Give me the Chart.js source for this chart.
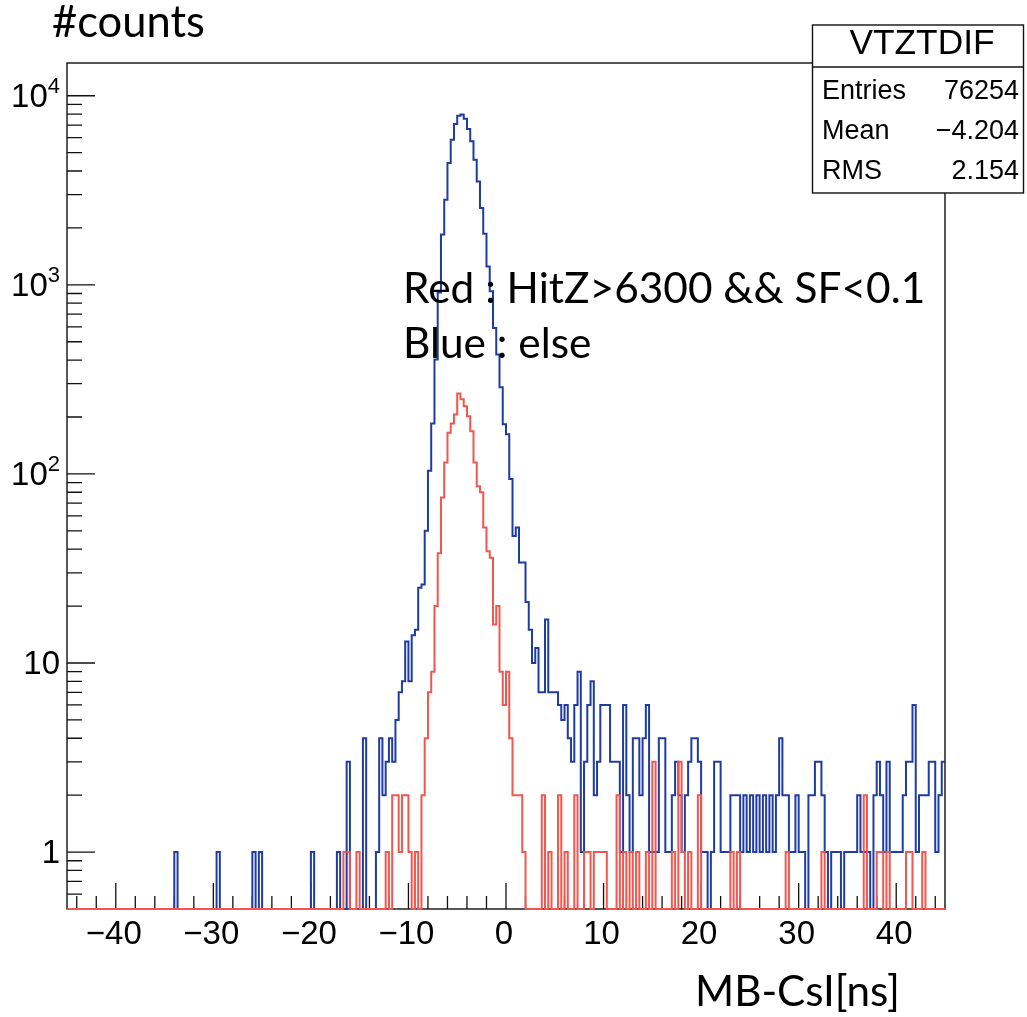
<!DOCTYPE html>
<html><head><meta charset="utf-8">
<script src="https://cdn.jsdelivr.net/npm/chart.js@4.4.1/dist/chart.umd.min.js"></script>
<style>html,body{margin:0;padding:0;background:#fff;}canvas{display:block;}</style>
</head><body>
<canvas id="c" width="1027" height="1017"></canvas>
<script>
// ---------------- data ----------------
const X_MIN = -45, X_MAX = 45;            // histogram range [ns], 270 bins of 1/3 ns
const BLUE_COUNTS = [
  0,0,0,0,0,0,0,0,0,0, 0,0,0,0,0,0,0,0,0,0, 0,0,0,0,0,0,0,0,0,0,
  0,0,0,1,0,0,0,0,0,0, 0,0,0,0,0,0,1,0,0,0, 0,0,0,0,0,0,0,1,0,1,
  0,0,0,0,0,0,0,0,0,0, 0,0,0,0,0,1,0,0,0,0, 0,0,0,1,0,0,3,0,0,0,
  0,4,0,0,0,1,4,2,3,4, 3,5,7,8,13,8,14,15,25,26, 50,104,185,403,910,1845,2820,4410,5860,7080,
  7840,7960,7560,6670,5740,4590,3520,2550,1865,1250, 925,592,428,287,183,162,94,47,52,34, 34,21,15,10,12,7,7,17,7,7,
  7,6,5,6,4,3,6,9,1,3, 6,8,2,3,6,6,6,3,3,3, 1,6,2,1,4,4,2,4,6,1,
  1,1,4,4,1,1,2,3,2,1, 2,3,4,4,3,1,1,0,1,3, 3,1,1,1,2,2,2,1,2,1,
  2,1,2,1,2,1,2,1,2,4, 2,2,1,1,2,1,1,0,2,2, 3,3,2,1,0,1,1,1,0,1,
  1,1,1,2,1,1,1,0,2,3, 2,1,3,1,1,1,1,2,3,3, 6,1,2,2,2,3,3,1,2,3
];
const RED_COUNTS = [
  0,0,0,0,0,0,0,0,0,0, 0,0,0,0,0,0,0,0,0,0, 0,0,0,0,0,0,0,0,0,0,
  0,0,0,0,0,0,0,0,0,0, 0,0,0,0,0,0,0,0,0,0, 0,0,0,0,0,0,0,0,0,0,
  0,0,0,0,0,0,0,0,0,0, 0,0,0,0,0,0,0,0,0,0, 0,0,0,0,0,1,1,0,0,1,
  0,0,0,0,0,0,0,0,1,0, 2,2,1,2,2,1,0,1,0,2, 4,7,9,20,38,75,115,165,185,206,
  266,248,228,202,168,115,86,80,52,39, 36,16,20,9,6,9,4,2,2,2, 1,0,0,0,0,0,2,0,1,0,
  0,2,0,1,0,0,2,0,0,1, 1,0,1,1,1,1,0,0,0,2, 0,1,0,1,0,1,0,0,1,0,
  3,0,0,0,0,0,1,0,3,1, 0,1,0,0,2,0,0,0,0,0, 0,0,0,0,1,0,1,0,0,0,
  0,0,0,0,0,0,0,0,0,0, 0,1,0,0,0,0,0,0,0,0, 0,0,1,0,0,0,0,0,0,0,
  0,0,0,0,0,2,0,0,0,1, 1,0,1,0,0,0,0,0,1,1, 0,0,0,1,0,0,0,0,0,0
];
const X_TICK_VALUES = [-40,-30,-20,-10,0,10,20,30,40];
const X_MINOR_STEP = 2;
const Y_MIN = 0.5, Y_MAX = 14900;
const Y_TICK_VALUES = [1,10,100,1000,10000];
const Y_TICK_BASES  = ['1','10','10','10','10'];
const Y_TICK_EXPS   = ['','','2','3','4'];
const STAT_TITLE = 'VTZTDIF';
const STAT_NAMES  = ['Entries','Mean','RMS'];
const STAT_VALUES = ['76254','\u22124.204','2.154'];
const Y_TITLE = '#counts';
const X_TITLE = 'MB-CsI[ns]';
const NOTE_LINES = ['Red : HitZ>6300 && SF<0.1','Blue : else'];

// ---------------- styles ----------------
const BLUE = '#1f3ca3';
const RED = '#f2564e';
const AXIS_FONT = '"Liberation Sans", Arial, sans-serif';
const NOTE_FONT = 'Lato, "Open Sans", sans-serif';

function histPoints(counts){
  const w = (X_MAX - X_MIN) / counts.length;
  const pts = counts.map((c,i) => ({x: X_MIN + i*w, y: c > 0 ? c : Y_MIN}));
  const last = counts[counts.length-1];
  pts.push({x: X_MAX, y: last > 0 ? last : Y_MIN});
  return pts;
}

function fitSize(ctx, text, family, targetW){
  ctx.font = '100px ' + family;
  return 100 * targetW / ctx.measureText(text).width;
}

const framePlugin = {
  id: 'frame',
  beforeDatasetsDraw(chart){
    const ctx = chart.ctx, a = chart.chartArea, xs = chart.scales.x, ys = chart.scales.y;
    ctx.save();
    ctx.strokeStyle = '#111'; ctx.lineWidth = 1.4;
    ctx.strokeRect(a.left, a.top, a.right - a.left, a.bottom - a.top);
    ctx.lineWidth = 1.3;
    ctx.beginPath();
    for (let v = -44; v <= 44; v += X_MINOR_STEP){
      const px = xs.getPixelForValue(v);
      const len = (v % 10 === 0) ? 26 : 13;
      ctx.moveTo(px, a.bottom); ctx.lineTo(px, a.bottom - len);
    }
    for (let d = -1; d <= 4; d++){
      for (let m = 1; m <= 9; m++){
        const v = m * Math.pow(10, d);
        if (v < Y_MIN || v > Y_MAX) continue;
        const py = ys.getPixelForValue(v);
        const len = (m === 1) ? 28 : 15;
        ctx.moveTo(a.left, py); ctx.lineTo(a.left + len, py);
      }
    }
    ctx.stroke();
    ctx.restore();
  },
  afterDraw(chart){
    const ctx = chart.ctx, a = chart.chartArea, xs = chart.scales.x, ys = chart.scales.y;
    ctx.save();
    ctx.fillStyle = '#000';
    // x tick labels
    ctx.font = '33px ' + AXIS_FONT;
    ctx.textAlign = 'center'; ctx.textBaseline = 'alphabetic';
    X_TICK_VALUES.forEach(v => {
      const t = v < 0 ? '\u2212' + Math.abs(v) : String(v);
      ctx.fillText(t, xs.getPixelForValue(v) - 2, 944);
    });
    // y tick labels
    Y_TICK_VALUES.forEach((v,i) => {
      const py = ys.getPixelForValue(v);
      const base = Y_TICK_BASES[i], ex = Y_TICK_EXPS[i];
      ctx.textAlign = 'left';
      ctx.font = '22px ' + AXIS_FONT;
      const we = ex ? ctx.measureText(ex).width : 0;
      ctx.font = '33px ' + AXIS_FONT;
      const wb = ctx.measureText(base).width;
      const right = 60;
      ctx.fillText(base, right - we - wb, py + 11);
      if (ex){ ctx.font = '22px ' + AXIS_FONT; ctx.fillText(ex, right - we, py - 3); }
    });
    // stats box
    const bx = 812.5, by = 25, bw = 211, bh = 168, sep = 67;
    ctx.fillStyle = '#fff'; ctx.fillRect(bx, by, bw, bh);
    ctx.strokeStyle = '#111'; ctx.lineWidth = 1.4;
    ctx.strokeRect(bx, by, bw, bh);
    ctx.beginPath(); ctx.moveTo(bx, sep); ctx.lineTo(bx + bw, sep); ctx.stroke();
    ctx.fillStyle = '#000';
    const ts = fitSize(ctx, STAT_TITLE, AXIS_FONT, 145);
    ctx.font = ts.toFixed(1) + 'px ' + AXIS_FONT;
    ctx.textAlign = 'center'; ctx.fillText(STAT_TITLE, 922, 54);
    ctx.font = '27px ' + AXIS_FONT;
    const rowsY = [99, 139, 179];
    STAT_NAMES.forEach((n,i) => {
      ctx.textAlign = 'left'; ctx.fillText(n, 822, rowsY[i]);
      ctx.textAlign = 'right'; ctx.fillText(STAT_VALUES[i], 1019, rowsY[i]);
    });
    // titles & notes
    ctx.textAlign = 'left';
    let s = fitSize(ctx, Y_TITLE, NOTE_FONT, 153);
    ctx.font = s.toFixed(1) + 'px ' + NOTE_FONT; ctx.fillText(Y_TITLE, 52, 37);
    s = fitSize(ctx, X_TITLE, NOTE_FONT, 205);
    ctx.font = s.toFixed(1) + 'px ' + NOTE_FONT; ctx.fillText(X_TITLE, 695, 1006);
    s = fitSize(ctx, NOTE_LINES[0], NOTE_FONT, 522);
    ctx.font = s.toFixed(1) + 'px ' + NOTE_FONT;
    ctx.fillText(NOTE_LINES[0], 403, 303);
    ctx.fillText(NOTE_LINES[1], 403, 358);
    ctx.restore();
  }
};

new Chart(document.getElementById('c'), {
  type: 'line',
  data: {
    datasets: [
      { label: 'Red', data: histPoints(RED_COUNTS), borderColor: RED, borderWidth: 2,
        stepped: true, pointRadius: 0, fill: false, clip: 3, order: 0 },
      { label: 'Blue', data: histPoints(BLUE_COUNTS), borderColor: BLUE, borderWidth: 2,
        stepped: true, pointRadius: 0, fill: false, clip: 3, order: 1 }
    ]
  },
  options: {
    responsive: false, animation: false, devicePixelRatio: 1,
    layout: { padding: { left: 0, top: 63, right: 82, bottom: 0 } },
    scales: {
      x: { type: 'linear', min: X_MIN, max: X_MAX,
           ticks: { display: false }, grid: { display: false }, border: { display: false },
           afterFit: s => { s.height = 108; } },
      y: { type: 'logarithmic', min: Y_MIN, max: Y_MAX,
           ticks: { display: false }, grid: { display: false }, border: { display: false },
           afterFit: s => { s.width = 67; } }
    },
    plugins: { legend: { display: false }, tooltip: { enabled: false }, title: { display: false } }
  },
  plugins: [framePlugin]
});
</script>
</body></html>
